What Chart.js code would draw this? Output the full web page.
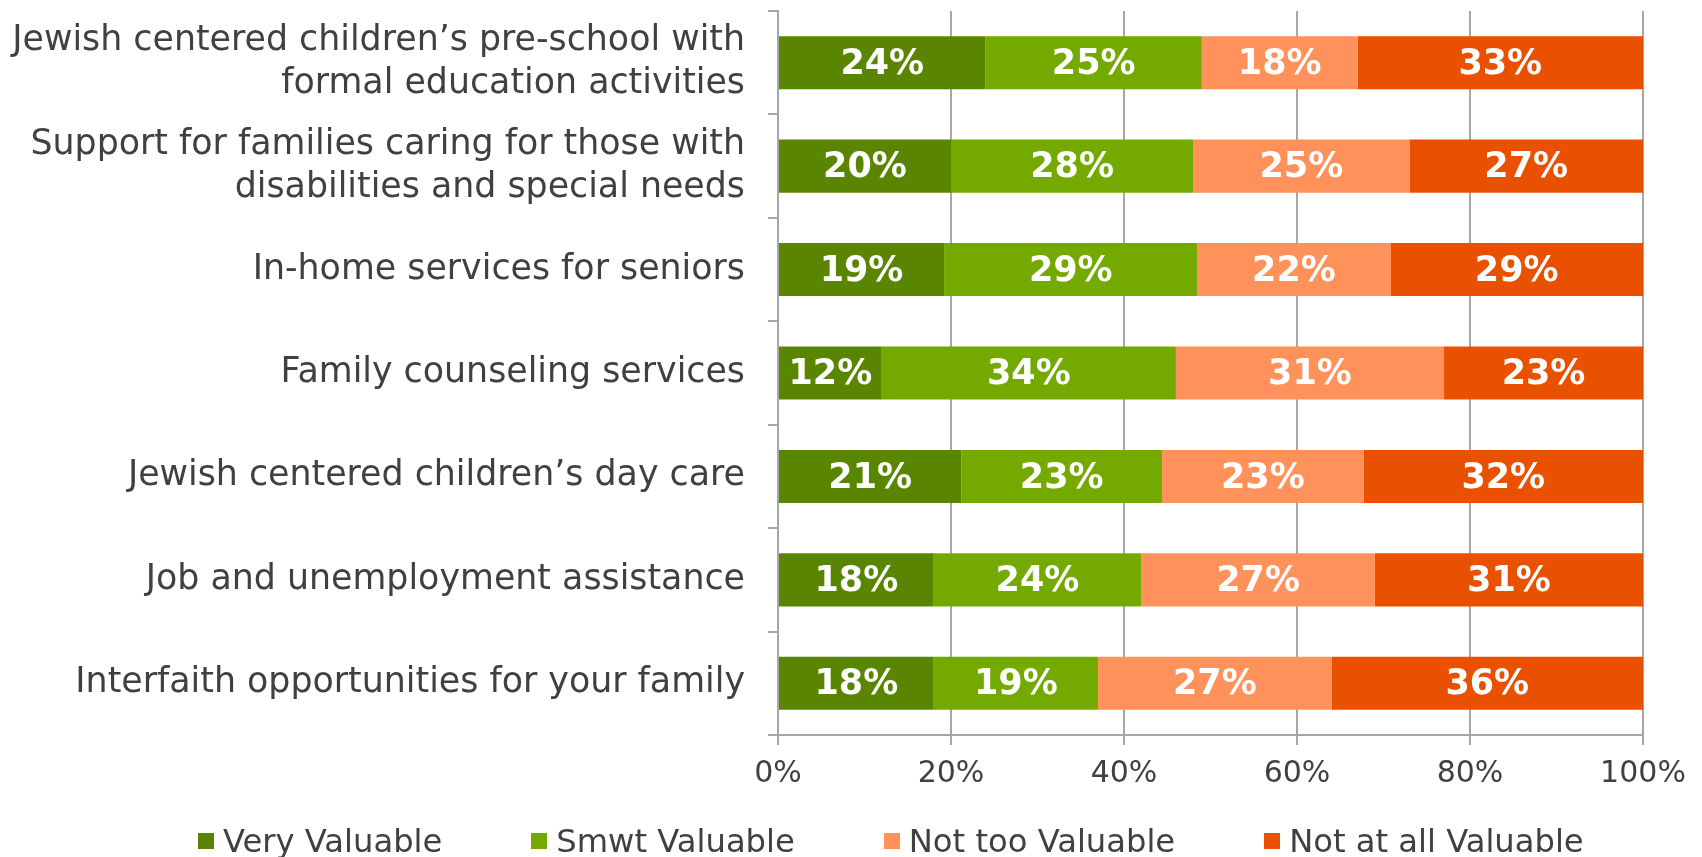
<!DOCTYPE html>
<html>
<head>
<meta charset="utf-8">
<script src="https://cdn.jsdelivr.net/npm/chart.js@4.4.1/dist/chart.umd.min.js"></script>
<style>
  html,body{margin:0;padding:0;background:#fff;overflow:hidden}
  #wrap{position:relative;width:1702px;height:857px;overflow:hidden}
  #legend{position:absolute;left:198px;top:822px;display:flex;gap:89px;font:32.2px 'DejaVu Sans';color:#404040;line-height:38px;white-space:nowrap}
  #legend .it{display:flex;align-items:center}
  #legend .bx{width:16px;height:16px;margin-right:9px}
</style>
</head>
<body>
<div id="wrap">
  <canvas id="ch" width="1702" height="857"></canvas>
  <div id="legend"></div>
</div>
<script>
// categories (top to bottom)
const categories = [
  ['Jewish centered children\u2019s pre-school with', 'formal education activities'],
  ['Support for families caring for those with', 'disabilities and special needs'],
  'In-home services for seniors',
  'Family counseling services',
  'Jewish centered children\u2019s day care',
  'Job and unemployment assistance',
  'Interfaith opportunities for your family'
];
const seriesNames = ['Very Valuable', 'Smwt Valuable', 'Not too Valuable', 'Not at all Valuable'];
const veryValuable     = [24, 20, 19.2, 12, 21.2, 18, 18];
const smwtValuable     = [25, 28, 29.3, 34, 23.2, 24, 19];
const notTooValuable   = [18, 25, 22.3, 31, 23.3, 27, 27];
const notAtAllValuable = [33, 27, 29.2, 23, 32.3, 31, 36];
const xTicks = [0, 20, 40, 60, 80, 100];

const colors = ['#5a8500', '#74aa00', '#ff915b', '#e95000'];
const gridCol = '#a6a6a6';
const txtCol = '#404040';

Chart.defaults.font.family = "'DejaVu Sans'";

// white bold % labels centred in every segment
const segLabels = {
  id: 'segLabels',
  afterDatasetsDraw(chart) {
    const c = chart.ctx;
    c.save();
    c.font = "bold 35px 'DejaVu Sans'";
    c.fillStyle = '#fff';
    c.textAlign = 'center';
    c.textBaseline = 'middle';
    chart.data.datasets.forEach((ds, i) => {
      chart.getDatasetMeta(i).data.forEach((bar, j) => {
        const v = ds.data[j];
        c.fillText(Math.round(v) + '%', (bar.x + bar.base) / 2, bar.y + 2);
      });
    });
    c.restore();
  }
};

const chart = new Chart(document.getElementById('ch'), {
  type: 'bar',
  data: {
    labels: categories,
    datasets: [veryValuable, smwtValuable, notTooValuable, notAtAllValuable].map((d, i) => ({
      label: seriesNames[i], data: d, backgroundColor: colors[i], borderWidth: 0,
      categoryPercentage: 1, barPercentage: 0.513
    }))
  },
  options: {
    indexAxis: 'y',
    responsive: false,
    devicePixelRatio: 1,
    animation: false,
    layout: { padding: { top: 11, right: 59, left: 0, bottom: 0 } },
    plugins: { legend: { display: false }, tooltip: { enabled: false } },
    scales: {
      x: {
        stacked: true, min: 0, max: 100,
        afterBuildTicks: s => { s.ticks = xTicks.map(v => ({ value: v })); },
        afterFit: s => { s.height = 122; },
        grid: { color: gridCol, lineWidth: 2, tickLength: 10 },
        border: { color: gridCol, width: 2 },
        ticks: { color: txtCol, font: { size: 30 }, padding: 11, callback: v => v + '%' }
      },
      y: {
        stacked: true,
        afterFit: s => { s.width = 778; s.paddingTop = 0; s.paddingBottom = 0; },
        grid: { drawOnChartArea: false, offset: true, color: gridCol, lineWidth: 2, tickLength: 10 },
        border: { color: gridCol, width: 2 },
        ticks: { color: txtCol, font: { size: 34.8, lineHeight: 1.24 }, padding: 23 }
      }
    }
  },
  plugins: [segLabels]
});

// legend built from the chart's datasets
const lg = document.getElementById('legend');
chart.data.datasets.forEach(ds => {
  const it = document.createElement('div');
  it.className = 'it';
  it.innerHTML = `<span class="bx" style="background:${ds.backgroundColor}"></span><span>${ds.label}</span>`;
  lg.appendChild(it);
});
</script>
</body>
</html>
